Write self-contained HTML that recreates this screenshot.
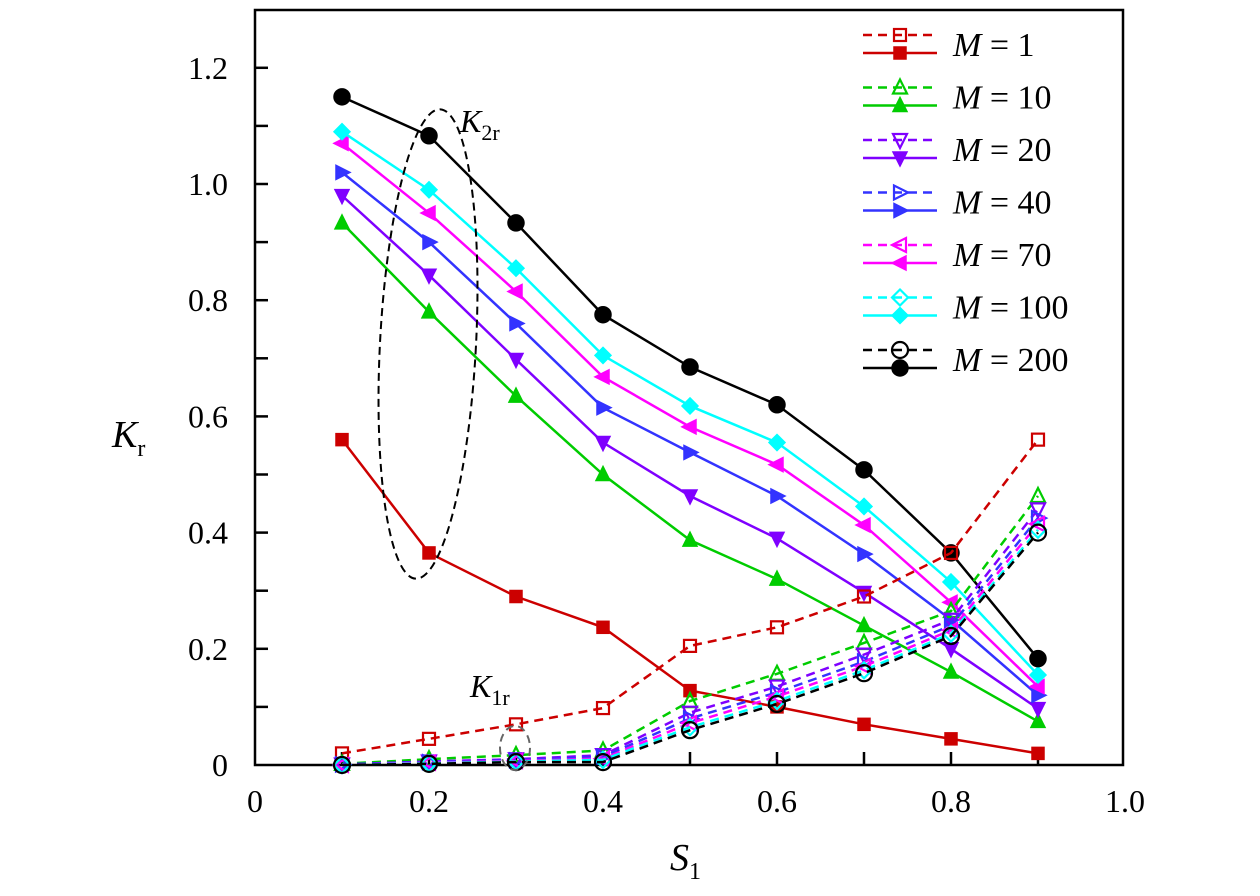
<!DOCTYPE html>
<html><head><meta charset="utf-8"><style>
body{margin:0;background:#fff;}
svg text{font-family:"Liberation Serif",serif;fill:#000;}
</style></head><body>
<svg id="chart" width="1260" height="891">
<rect x="255" y="10" width="868" height="755" fill="none" stroke="#000" stroke-width="2.5"/>
<g id="axes"></g>
<g id="series"></g>
<g id="legend"></g>
<ellipse cx="428" cy="344" rx="48" ry="235" transform="rotate(3 428 344)" fill="none" stroke="#000" stroke-width="2" stroke-dasharray="8,5"/>
<text x="460" y="132" font-size="32" font-style="italic">K<tspan font-size="22" font-style="normal" dy="8">2r</tspan></text>
<ellipse cx="515" cy="748" rx="15" ry="22" fill="none" stroke="#666" stroke-width="2" stroke-dasharray="8,5"/>
<text x="470" y="697" font-size="32" font-style="italic">K<tspan font-size="22" font-style="normal" dy="8">1r</tspan></text>
<text x="112" y="447" font-size="38" font-style="italic">K<tspan font-size="24" font-style="normal" dy="9">r</tspan></text>
<text x="670" y="870" font-size="38" font-style="italic">S<tspan font-size="24" font-style="normal" dy="9">1</tspan></text>
</svg>
<script>
const xs=[0.1,0.2,0.3,0.4,0.5,0.6,0.7,0.8,0.9];
const labels=["M = 1","M = 10","M = 20","M = 40","M = 70","M = 100","M = 200"];
const colors=["#cc0000","#00cc00","#7f00ff","#3333ff","#ff00ff","#00ffff","#000000"];
const markers=["square","up","down","right","left","diamond","circle"];
const k2r=[
[0.56,0.365,0.29,0.237,0.128,0.10,0.07,0.045,0.02],
[0.933,0.78,0.635,0.50,0.387,0.32,0.24,0.16,0.075],
[0.98,0.843,0.698,0.555,0.463,0.39,0.297,0.20,0.097],
[1.02,0.90,0.76,0.615,0.538,0.463,0.363,0.25,0.12],
[1.07,0.95,0.815,0.668,0.582,0.517,0.413,0.28,0.135],
[1.09,0.99,0.855,0.705,0.618,0.555,0.445,0.315,0.155],
[1.15,1.083,0.933,0.775,0.685,0.62,0.508,0.365,0.183]];
const k1r=[
[0.02,0.045,0.07,0.098,0.205,0.237,0.29,0.365,0.56],
[0.002,0.01,0.017,0.025,0.11,0.157,0.21,0.265,0.463],
[0.001,0.006,0.01,0.017,0.09,0.135,0.19,0.25,0.44],
[0.001,0.005,0.008,0.014,0.08,0.125,0.178,0.24,0.425],
[0.0,0.004,0.007,0.011,0.072,0.118,0.17,0.232,0.415],
[0.0,0.003,0.006,0.009,0.065,0.11,0.163,0.226,0.405],
[0.0,0.002,0.005,0.005,0.06,0.105,0.158,0.222,0.40]];
const xTicks=["0","0.2","0.4","0.6","0.8","1.0"];
const yTicks=["0","0.2","0.4","0.6","0.8","1.0","1.2"];
const X=v=>255+v*870, Y=v=>765-v*581;
const NS="http://www.w3.org/2000/svg";
function mk(t,a,p){const e=document.createElementNS(NS,t);for(const k in a)e.setAttribute(k,a[k]);p.appendChild(e);return e;}
const ax=document.getElementById('axes');
for(let i=1;i<10;i++){const l=mk('line',{x1:X(i/10),x2:X(i/10),y1:765,y2:752,stroke:'#000','stroke-width':2.5},ax);

}
for(let i=1;i<13;i++){const l=mk('line',{x1:255,x2:268,y1:Y(i/10),y2:Y(i/10),stroke:'#000','stroke-width':2.5},ax);

}
xTicks.forEach((s,i)=>{const t=mk('text',{x:X(i*0.2),y:812,'font-size':32,'text-anchor':'middle'},ax);t.textContent=s;

});
yTicks.forEach((s,i)=>{const t=mk('text',{x:228,y:Y(i*0.2)+11,'font-size':32,'text-anchor':'end'},ax);t.textContent=s;

});
function marker(type,cx,cy,col,filled,p){
 const s=filled?{fill:col,stroke:col,'stroke-width':1.5}:{fill:'none',stroke:col,'stroke-width':2.2};
 let e,r=7;
 if(type==='square')e=mk('rect',Object.assign({x:cx-6,y:cy-6,width:12,height:12},s),p);
 else if(type==='circle')e=mk('circle',Object.assign({cx,cy,r:8},s),p);
 else{let pts;
  if(type==='up')pts=[[0,-r-1],[r,r-1],[-r,r-1]];
  if(type==='down')pts=[[0,r+1],[r,-r+1],[-r,-r+1]];
  if(type==='right')pts=[[r+1,0],[-r+1,-r],[-r+1,r]];
  if(type==='left')pts=[[-r-1,0],[r-1,-r],[r-1,r]];
  if(type==='diamond')pts=[[0,-8],[8,0],[0,8],[-8,0]];
  e=mk('polygon',Object.assign({points:pts.map(q=>(cx+q[0])+','+(cy+q[1])).join(' ')},s),p);}
 return e;}
const sg=document.getElementById('series');
function draw(data,dashed,idx){
 const g=mk('g',{},sg);
 
 
 const pl=mk('polyline',{points:xs.map((x,i)=>X(x)+','+Y(data[i])).join(' '),fill:'none',stroke:colors[idx],'stroke-width':2.5,'stroke-dasharray':dashed?'9,6':'none'},g);
 
 
 xs.forEach((x,i)=>{const m=marker(markers[idx],X(x),Y(data[i]),colors[idx],!dashed,g);
  
  });
}
for(let i=0;i<7;i++)draw(k2r[i],false,i);
for(let i=0;i<7;i++)draw(k1r[i],true,i);
const lg=document.getElementById('legend');
labels.forEach((lab,i)=>{
 const y0=35+i*52.5;
 const g=mk('g',{},lg);
 
 
 mk('line',{x1:863,x2:937,y1:y0,y2:y0,stroke:colors[i],'stroke-width':2.5,'stroke-dasharray':'9,6'},g);
 marker(markers[i],900,y0,colors[i],false,g);
 mk('line',{x1:863,x2:937,y1:y0+18,y2:y0+18,stroke:colors[i],'stroke-width':2.5},g);
 marker(markers[i],900,y0+18,colors[i],true,g);
 const t=mk('text',{x:953,y:y0+21,'font-size':34},g);
 const parts=lab.split(' = ');
 t.innerHTML='<tspan font-style="italic">'+parts[0]+'</tspan> = '+parts[1];
});
</script>
</body></html>
